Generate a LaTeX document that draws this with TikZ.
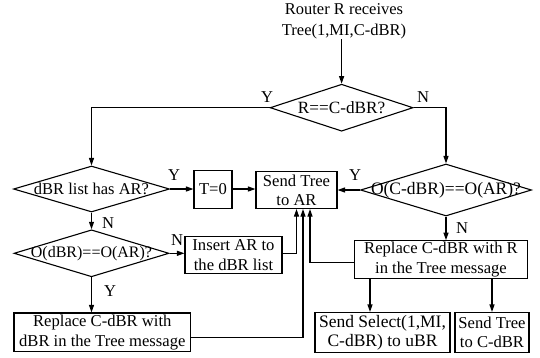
\documentclass[tikz,border=0pt]{standalone}
\usepackage{fontspec}
\setmainfont{Liberation Serif}
\usetikzlibrary{shapes.geometric,arrows.meta}
\begin{document}
\begin{tikzpicture}[x=1pt,y=-1pt,
  every node/.style={font=\fontsize{16.6}{20}\selectfont},
  box/.style={draw, line width=1.1pt, inner sep=0pt, align=center},
  dia/.style={draw, diamond, line width=1.1pt, inner sep=0pt},
  lbl/.style={inner sep=0pt},
  arr/.style={line width=1.1pt, -{Triangle[length=7.5pt,width=5pt]}}]
\useasboundingbox (0,0) rectangle (540,357);
\node[lbl, align=center, font=\fontsize{16.5}{21}\selectfont] (start) at (344,21.5) {Router R receives\\Tree(1,MI,C-dBR)};
\node[dia, minimum width=143, minimum height=47] (d1) at (341.6,107.7) {};
\node[font=\fontsize{17.2}{20}\selectfont] at (d1) {R==C-dBR?};
\node[dia, minimum width=156, minimum height=46] (d2) at (91.5,189) {};
\node[font=\fontsize{16.5}{20}\selectfont] at (d2) {dBR list has AR?};
\node[dia, minimum width=171, minimum height=52] (d3) at (446,190) {};
\node[font=\fontsize{17.5}{20}\selectfont] at (d3) {O(C-dBR)==O(AR)?};
\node[dia, minimum width=155, minimum height=47] (d4) at (91.5,253.3) {};
\node[font=\fontsize{16}{20}\selectfont] at (d4) {O(dBR)==O(AR)?};
\node[box, minimum width=38, minimum height=37.5] (t0) at (213,189.3) {T=0};
\node[box, minimum width=81, minimum height=37, font=\fontsize{16.6}{19.3}\selectfont] (send) at (296.5,190) {Send Tree\\to AR};
\node[box, minimum width=97, minimum height=36.5] (ins) at (233.5,254.8) {Insert AR to\\the dBR list};
\node[box, minimum width=173.4, minimum height=38] (repR) at (441,259.7) {Replace C-dBR with R\\in the Tree message};
\node[box, minimum width=176.7, minimum height=38.5] (repD) at (102.3,332.2) {Replace C-dBR with\\dBR in the Tree message};
\node[box, minimum width=135, minimum height=40, font=\fontsize{17.5}{19.3}\selectfont] (sel) at (382.5,332.5) {Send Select(1,MI,\\C-dBR) to uBR};
\node[box, minimum width=74, minimum height=40, font=\fontsize{16.6}{19.3}\selectfont] (sendC) at (492,332.5) {Send Tree\\to C-dBR};
% connectors
\draw[arr] (start.south -| d1.north) -- (d1.north);
\draw[arr] (d1.west) -| (d2.north);
\draw[arr] (d1.east) -| (d3.north);
\draw[arr] (d2.east) -- (d2.east -| t0.west);
\draw[arr] (t0.east |- d2.east) -- (send.west |- d2.east);
\draw[arr] (d3.west) -- (d3.west -| send.east);
\draw[arr] (d2.south) -- (d4.north);
\draw[arr] (d4.east) -- (d4.east -| ins.west);
\draw[arr] ([yshift=1.2]ins.east) -| (send.south);
\draw[arr] ([yshift=-5.2]repD.east) -| ([xshift=6.5]send.south);
\draw[arr] ([yshift=-2.7]repR.west) -| ([xshift=13.5]send.south);
\draw[arr] (d4.south) -- (d4.south |- repD.north);
\draw[arr] (d3.south) -- (d3.south |- repR.north);
\draw[arr] ([xshift=-12.5]sel.north |- repR.south) -- ([xshift=-12.5]sel.north);
\draw[arr] (sendC.north |- repR.south) -- (sendC.north);
% labels
\node[lbl] (y1) at (267,97) {Y};
\node[lbl] (n1) at (423,97) {N};
\node[lbl] (y2) at (174,175) {Y};
\node[lbl] (y3) at (355,175) {Y};
\node[lbl] (n2) at (108,223) {N};
\node[lbl] (n3) at (177,240) {N};
\node[lbl] (y4) at (110,291) {Y};
\node[lbl] (n4) at (462,228) {N};
\end{tikzpicture}
\end{document}
